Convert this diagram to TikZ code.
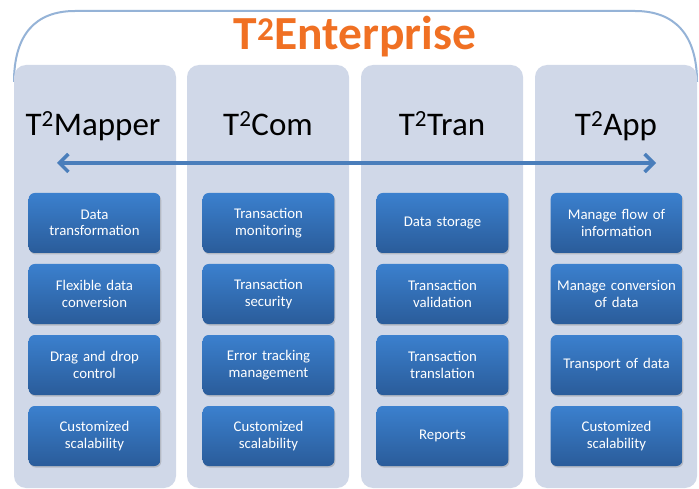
\documentclass[tikz,border=0pt]{standalone}
\usepackage{fontspec}
\setmainfont{Carlito}
\usetikzlibrary{arrows.meta,shadows}
\definecolor{colbg}{HTML}{D0D8E8}
\definecolor{frameblue}{HTML}{95B3D7}
\definecolor{arrowblue}{HTML}{4A7EBB}
\definecolor{boxtop}{HTML}{3B80CE}
\definecolor{boxbot}{HTML}{2A5C9A}
\definecolor{titleorange}{HTML}{F07023}
\tikzset{
  feat/.style={rounded corners=6pt, top color=boxtop, bottom color=boxbot, draw=none,
    minimum width=129pt, minimum height=60pt, text width=125pt, align=center,
    text=white, font=\fontsize{14.8}{16.5}\selectfont,
    drop shadow={shadow xshift=1pt, shadow yshift=-1.5pt, opacity=0.35}},
  head/.style={font=\fontsize{33}{38}\selectfont, text=black, inner sep=0pt, anchor=base},
}
\begin{document}
\begin{tikzpicture}[x=1pt,y=-1pt]
\useasboundingbox[fill=white] (0,0) rectangle (699,489);
% frame
\coordinate (fl) at (14,82);
\coordinate (fr) at (697,82);
\draw[frameblue, line width=2pt] (fl) .. controls (14,35) and (35,11) .. (75,11) -- (635,11) .. controls (675,11) and (697,35) .. (fr);
% columns
\foreach \n/\x in {c1/14, c2/187, c3/361, c4/535}{
  \fill[colbg, rounded corners=12pt] (\x,65) rectangle ++(162,423);
}
\node[font=\bfseries\fontsize{47.5}{50}\selectfont, text=titleorange, inner sep=0pt, anchor=base] (title) at (355,50) {T\textsuperscript{2}Enterprise};
% headers
\node[head] (h1) at (93,136) {T\textsuperscript{2}Mapper};
\node[head] (h2) at (268,136) {T\textsuperscript{2}Com};
\node[head] (h3) at (442,136) {T\textsuperscript{2}Tran};
\node[head] (h4) at (616,136) {T\textsuperscript{2}App};
% arrow
\coordinate (al) at (57,163);
\coordinate (ar) at (656,163);
\draw[arrowblue, line width=3.5pt, {Straight Barb[length=9pt,width=18pt,line width=3.5pt]}-{Straight Barb[length=9pt,width=18pt,line width=3.5pt]}] (al) -- (ar);
% boxes
\node[feat] (b11) at (94.5,223) {Data\\transformation};
\node[feat] (b12) at (94.5,294) {Flexible data\\conversion};
\node[feat] (b13) at (94.5,365) {Drag and drop\\control};
\node[feat] (b14) at (94.5,436) {Customized\\scalability};
\node[feat] (b21) at (268.5,223) {Transaction\\monitoring};
\node[feat] (b22) at (268.5,294) {Transaction\\security};
\node[feat] (b23) at (268.5,365) {Error tracking\\management};
\node[feat] (b24) at (268.5,436) {Customized\\scalability};
\node[feat] (b31) at (442.5,223) {Data storage};
\node[feat] (b32) at (442.5,294) {Transaction\\validation};
\node[feat] (b33) at (442.5,365) {Transaction\\translation};
\node[feat] (b34) at (442.5,436) {Reports};
\node[feat] (b41) at (616.5,223) {Manage flow of\\information};
\node[feat] (b42) at (616.5,294) {Manage conversion\\of data};
\node[feat] (b43) at (616.5,365) {Transport of data};
\node[feat] (b44) at (616.5,436) {Customized\\scalability};
\end{tikzpicture}
\end{document}
